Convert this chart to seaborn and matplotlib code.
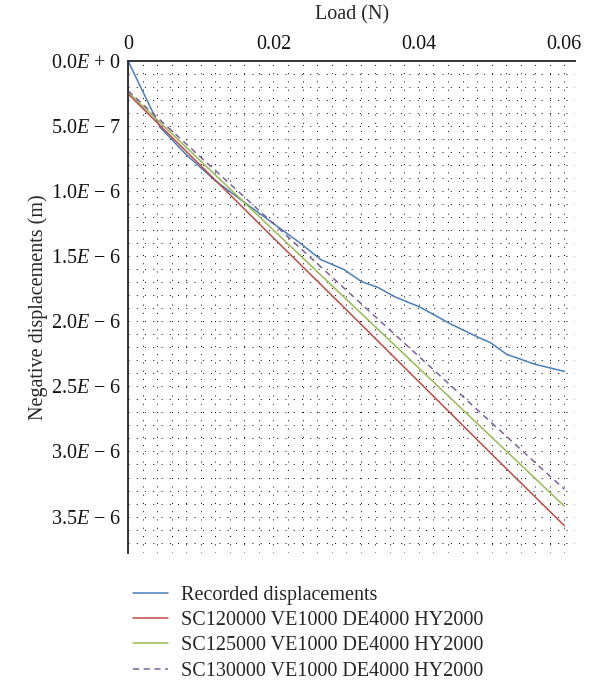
import numpy as np
import pandas as pd
import matplotlib
matplotlib.use("Agg")
import matplotlib.pyplot as plt
import seaborn as sns
from matplotlib.ticker import MultipleLocator, FixedLocator

# ---- data ----
rec_load = [0.0, 0.0044, 0.008, 0.012, 0.0155, 0.020, 0.0234, 0.0265, 0.0297,
            0.0321, 0.0344, 0.0366, 0.0386, 0.0400, 0.0445, 0.0482, 0.0498, 0.0521,
            0.0560, 0.0600]
rec_disp = [0.0, 5.1e-7, 7.2e-7, 9.2e-7, 1.066e-6, 1.25e-6, 1.388e-6, 1.526e-6,
            1.603e-6, 1.695e-6, 1.741e-6, 1.810e-6, 1.856e-6, 1.887e-6, 2.025e-6,
            2.124e-6, 2.163e-6, 2.255e-6, 2.331e-6, 2.385e-6]

model_load = [0.0, 0.01, 0.02, 0.03, 0.04, 0.05, 0.06]
sc120_disp = [2.53e-7, 8.05e-7, 1.36e-6, 1.91e-6, 2.465e-6, 3.02e-6, 3.57e-6]
sc125_disp = [2.40e-7, 7.70e-7, 1.30e-6, 1.83e-6, 2.36e-6, 2.89e-6, 3.42e-6]
sc130_disp = [2.30e-7, 7.40e-7, 1.25e-6, 1.76e-6, 2.27e-6, 2.78e-6, 3.29e-6]

series_names = ["Recorded displacements",
                "SC120000 VE1000 DE4000 HY2000",
                "SC125000 VE1000 DE4000 HY2000",
                "SC130000 VE1000 DE4000 HY2000"]
colors = ["#4a7ebb", "#be4b48", "#98b954", "#7d60a0"]

xticks = [0, 0.02, 0.04, 0.06]
xtick_labels = ["0", "0.02", "0.04", "0.06"]
yticks = [0, 5e-7, 1e-6, 1.5e-6, 2e-6, 2.5e-6, 3e-6, 3.5e-6]
ytick_labels = ["0.0$E$ + 0", "5.0$E$ \u2212 7", "1.0$E$ \u2212 6", "1.5$E$ \u2212 6",
                "2.0$E$ \u2212 6", "2.5$E$ \u2212 6", "3.0$E$ \u2212 6", "3.5$E$ \u2212 6"]

frames = [pd.DataFrame({"load": rec_load, "disp": rec_disp, "series": series_names[0]})]
for name, d in zip(series_names[1:], [sc120_disp, sc125_disp, sc130_disp]):
    frames.append(pd.DataFrame({"load": model_load, "disp": d, "series": name}))
df = pd.concat(frames, ignore_index=True)

sns.set_style("white")
plt.rcParams["font.family"] = ["Liberation Serif", "DejaVu Serif"]
plt.rcParams["mathtext.fontset"] = "custom"
plt.rcParams["mathtext.rm"] = "Liberation Serif"
plt.rcParams["mathtext.it"] = "Liberation Serif:italic"

FS = 14.5
fig = plt.figure(figsize=(5.9, 6.84), dpi=100)
ax = fig.add_axes([0.217, 0.1915, 0.758, 0.7195])

palette = dict(zip(series_names, colors))
dashes = {series_names[0]: "", series_names[1]: "", series_names[2]: "",
          series_names[3]: (4, 3)}
sns.lineplot(data=df, x="load", y="disp", hue="series", style="series",
             palette=palette, dashes=dashes, hue_order=series_names,
             style_order=series_names, ax=ax, linewidth=1.1, legend=True,
             sort=False, estimator=None)

ax.set_xlim(0, 0.0615)
ax.set_ylim(3.78e-6, 0)

ax.xaxis.set_major_locator(FixedLocator(xticks))
ax.set_xticklabels(xtick_labels)
ax.yaxis.set_major_locator(FixedLocator(yticks))
ax.set_yticklabels(ytick_labels)
ax.xaxis.set_minor_locator(MultipleLocator(0.002))
ax.yaxis.set_minor_locator(MultipleLocator(1e-7))

ax.xaxis.tick_top()
ax.xaxis.set_label_position("top")
ax.tick_params(axis="both", which="both", length=0, labelsize=FS, colors="#111111", pad=5)
ax.set_xlabel("Load (N)", fontsize=FS, labelpad=11)
ax.set_ylabel("Negative displacements (m)", fontsize=FS, labelpad=2)

ax.grid(True, which="both", linestyle=(0, (1, 7.5)), color="black", linewidth=0.7)
ax.set_axisbelow(True)

for s in ["right", "bottom"]:
    ax.spines[s].set_visible(False)
for s in ["left", "top"]:
    ax.spines[s].set_color("#333333")
    ax.spines[s].set_linewidth(1.4)

handles, labels = ax.get_legend_handles_labels()
ax.get_legend().remove()
fig.legend(handles, labels, loc="upper left", bbox_to_anchor=(0.212, 0.155),
           frameon=False, fontsize=FS, handlelength=1.75, labelspacing=0.3,
           handletextpad=0.65, borderaxespad=0)

fig.savefig("out.png", dpi=100)
